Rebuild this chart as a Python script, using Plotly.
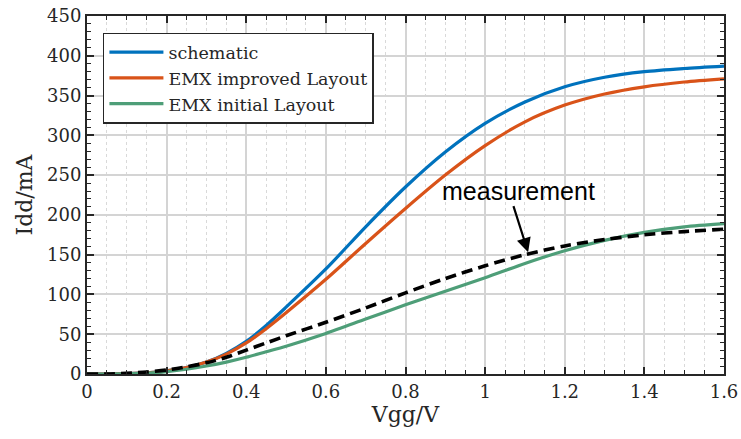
import plotly.graph_objects as go

vgg = [0.0, 0.05, 0.1, 0.15, 0.2, 0.25, 0.3, 0.35, 0.4, 0.45, 0.5, 0.6, 0.7, 0.8, 0.9, 1.0, 1.1, 1.2, 1.3, 1.4, 1.5, 1.6]
schematic = [0, 0, 0.5, 1.5, 4, 8, 15, 26, 41, 61, 84, 132, 185, 235, 279, 315, 342, 361, 373, 380, 384, 387]
improved = [0, 0, 0.5, 1.5, 4, 8, 15, 25, 39, 57, 77, 119, 164, 208, 250, 287, 317, 338, 352, 361, 367, 371]
initial = [0, 0, 0.3, 1, 3, 6, 10, 15, 21, 28, 35, 51, 69, 87, 104, 121, 139, 155, 168, 178, 185, 189]
measurement = [0, 0, 1, 2.5, 5, 9, 14, 21, 30, 39, 48, 65, 83, 102, 120, 136, 150, 161, 169, 175, 179, 182]

x_ticks = [0, 0.2, 0.4, 0.6, 0.8, 1.0, 1.2, 1.4, 1.6]
x_tick_labels = ["0", "0.2", "0.4", "0.6", "0.8", "1", "1.2", "1.4", "1.6"]
y_ticks = [0, 50, 100, 150, 200, 250, 300, 350, 400, 450]

SERIF = "DejaVu Serif"
AX = "#262626"

fig = go.Figure()
fig.add_trace(go.Scatter(x=vgg, y=schematic, mode="lines", name="schematic",
                         line=dict(color="#0072BD", width=3.2, shape="spline", smoothing=0.8)))
fig.add_trace(go.Scatter(x=vgg, y=improved, mode="lines", name="EMX improved Layout",
                         line=dict(color="#D95319", width=3.2, shape="spline", smoothing=0.8)))
fig.add_trace(go.Scatter(x=vgg, y=initial, mode="lines", name="EMX initial Layout",
                         line=dict(color="#4E9E78", width=3.2, shape="spline", smoothing=0.8)))
fig.add_trace(go.Scatter(x=vgg, y=measurement, mode="lines", name="measurement", showlegend=False,
                         line=dict(color="black", width=3.6, dash="11px,6px", shape="spline", smoothing=0.8)))

fig.add_annotation(x=1.085, y=230, text="measurement", showarrow=False,
                   font=dict(family="Liberation Sans, Arial", size=25, color="black"))
fig.add_annotation(x=1.108, y=153, ax=1.070, ay=213, axref="x", ayref="y", xref="x", yref="y",
                   text="", showarrow=True, arrowhead=2, arrowsize=1.3, arrowwidth=2.2,
                   arrowcolor="black")

fig.update_layout(
    width=741, height=439,
    margin=dict(l=87, r=17, t=16, b=65),
    paper_bgcolor="white", plot_bgcolor="white",
    font=dict(family=SERIF, size=18, color=AX),
    legend=dict(x=0.025, y=0.953, xanchor="left", yanchor="top",
                bgcolor="white", bordercolor=AX, borderwidth=1.5,
                font=dict(family=SERIF, size=17.5, color=AX),
                tracegroupgap=0, itemwidth=54),
    showlegend=True,
)
fig.update_xaxes(
    range=[0, 1.6], tickmode="array", tickvals=x_ticks, ticktext=x_tick_labels,
    showline=True, linecolor=AX, linewidth=2, mirror="allticks",
    ticks="inside", ticklen=7, tickwidth=1.5, tickcolor=AX,
    showgrid=True, gridcolor="#d4d4d4", gridwidth=1.5, zeroline=False,
    minor=dict(dtick=0.05, tick0=0, ticks="inside", ticklen=4, tickwidth=1.2, tickcolor=AX,
               showgrid=True, gridcolor="#d9d9d9", griddash="dot", gridwidth=1),
    title=dict(text="Vgg/V", font=dict(family=SERIF, size=22, color=AX), standoff=6),
    tickfont=dict(family=SERIF, size=18, color=AX),
    automargin=False,
)
fig.update_yaxes(
    range=[0, 450], tickmode="array", tickvals=y_ticks,
    showline=True, linecolor=AX, linewidth=2, mirror="allticks",
    ticks="inside", ticklen=7, tickwidth=1.5, tickcolor=AX,
    showgrid=True, gridcolor="#d4d4d4", gridwidth=1.5, zeroline=False,
    minor=dict(dtick=10, tick0=0, ticks="inside", ticklen=4, tickwidth=1.2, tickcolor=AX,
               showgrid=False),
    title=dict(text="Idd/mA", font=dict(family=SERIF, size=22, color=AX), standoff=8),
    tickfont=dict(family=SERIF, size=18, color=AX),
    automargin=False,
)

fig.write_html("out.html")
